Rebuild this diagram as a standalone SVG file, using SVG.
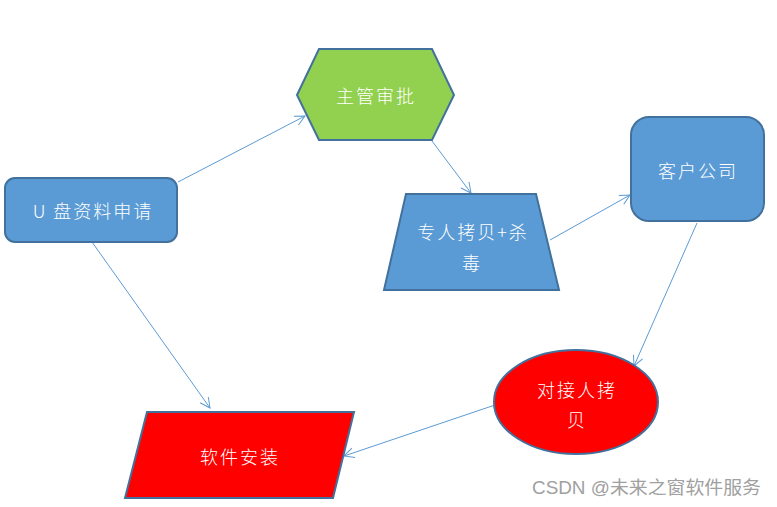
<svg xmlns="http://www.w3.org/2000/svg" width="777" height="507" viewBox="0 0 777 507">
<defs>
<style>
.blue{fill:#5b9bd5;stroke:#41719c;stroke-width:2}
.green{fill:#92d050;stroke:#41719c;stroke-width:2}
.red{fill:#ff0000;stroke:#41719c;stroke-width:2}
.t{font-family:"Noto Sans CJK SC","Liberation Sans",sans-serif;font-size:18px;font-weight:300;letter-spacing:2px;fill:#ffffff;text-anchor:middle;dominant-baseline:central}
.c{fill:none;stroke:#5b9bd5;stroke-width:1;marker-end:url(#arr)}
.wm{font-family:"Liberation Sans","Noto Sans CJK SC",sans-serif;font-size:18px;fill:#a0a0a0}
</style>
<marker id="arr" viewBox="0 0 12 12" refX="11" refY="6" markerWidth="12" markerHeight="12" markerUnits="userSpaceOnUse" orient="auto">
<path d="M1,1 L11,6 L1,11" fill="none" stroke="#5b9bd5" stroke-width="1"/>
</marker>
</defs>
<rect width="777" height="507" fill="#ffffff"/>
<g id="connectors">
<line class="c" x1="178" y1="182" x2="305" y2="116"/>
<line class="c" x1="92" y1="242" x2="210" y2="408"/>
<line class="c" x1="432" y1="141" x2="471" y2="193"/>
<line class="c" x1="550" y1="240" x2="630" y2="195"/>
<line class="c" x1="697" y1="223" x2="634" y2="366"/>
<line class="c" x1="495" y1="405" x2="344" y2="456"/>
</g>
<g id="n1">
<rect class="blue" x="5" y="178" width="172" height="64" rx="10"/>
<text class="t" x="93" y="210">U 盘资料申请</text>
</g>
<g id="n2">
<polygon class="green" points="297,95 319,49 432,49 454,95 432,140 319,140"/>
<text class="t" x="376" y="95">主管审批</text>
</g>
<g id="n3">
<polygon class="blue" points="406,194 536,194 559,290 384,290"/>
<text class="t" x="473" y="231">专人拷贝+杀</text>
<text class="t" x="472" y="262">毒</text>
</g>
<g id="n4">
<rect class="blue" x="631" y="117" width="133" height="104" rx="18"/>
<text class="t" x="698" y="170">客户公司</text>
</g>
<g id="n5">
<ellipse class="red" cx="576" cy="402" rx="82" ry="52"/>
<text class="t" x="577" y="389">对接人拷</text>
<text class="t" x="577" y="419">贝</text>
</g>
<g id="n6">
<polygon class="red" points="147,412 354,412 333,498 125,498"/>
<text class="t" x="240" y="456">软件安装</text>
</g>
<text class="wm" x="532" y="494" textLength="229" lengthAdjust="spacingAndGlyphs">CSDN @未来之窗软件服务</text>
</svg>
